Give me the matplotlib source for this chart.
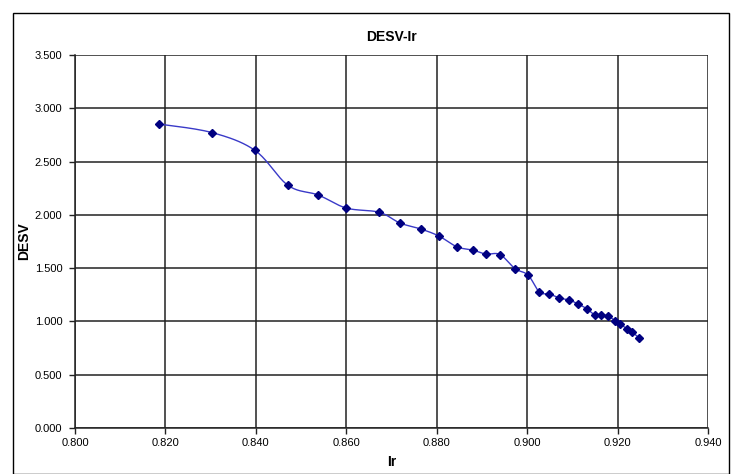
import numpy as np
import matplotlib
matplotlib.use('Agg')
import matplotlib.pyplot as plt
from matplotlib.patches import Rectangle
from matplotlib.ticker import FormatStrFormatter

plt.rcParams['font.family'] = ['Liberation Sans', 'DejaVu Sans']

# Ir vs DESV measurements
ir = [0.8186, 0.8303, 0.8398, 0.8471, 0.8538, 0.8600, 0.8673, 0.8719,
      0.8765, 0.8805, 0.8845, 0.8881, 0.8909, 0.8940, 0.8973, 0.9002,
      0.9027, 0.9049, 0.9071, 0.9093, 0.9113, 0.9133, 0.9150, 0.9164,
      0.9179, 0.9195, 0.9206, 0.9221, 0.9232, 0.9248]
desv = [2.852, 2.772, 2.605, 2.277, 2.186, 2.064, 2.024, 1.923,
        1.867, 1.801, 1.700, 1.668, 1.632, 1.628, 1.495, 1.435,
        1.276, 1.257, 1.220, 1.201, 1.163, 1.116, 1.060, 1.060,
        1.051, 1.004, 0.976, 0.929, 0.901, 0.844]


def smooth_curve(x, y, n=20, tension=0.5):
    # cardinal spline through the points, like a spreadsheet "smoothed line"
    x = np.asarray(x, float)
    y = np.asarray(y, float)
    px = np.concatenate([[x[0]], x, [x[-1]]])
    py = np.concatenate([[y[0]], y, [y[-1]]])
    xs, ys = [], []
    t = np.linspace(0, 1, n, endpoint=False)
    h00 = 2 * t**3 - 3 * t**2 + 1
    h10 = t**3 - 2 * t**2 + t
    h01 = -2 * t**3 + 3 * t**2
    h11 = t**3 - t**2
    for i in range(1, len(px) - 2):
        mx0 = tension * (px[i + 1] - px[i - 1])
        my0 = tension * (py[i + 1] - py[i - 1])
        mx1 = tension * (px[i + 2] - px[i])
        my1 = tension * (py[i + 2] - py[i])
        xs.append(h00 * px[i] + h10 * mx0 + h01 * px[i + 1] + h11 * mx1)
        ys.append(h00 * py[i] + h10 * my0 + h01 * py[i + 1] + h11 * my1)
    xs.append([x[-1]])
    ys.append([y[-1]])
    return np.concatenate(xs), np.concatenate(ys)


fig = plt.figure(figsize=(7.31, 4.74), dpi=100)
ax = fig.add_axes([75 / 731, 1 - 428 / 474, (708 - 75) / 731, (428 - 55) / 474])

# chart area border
fig.patches.append(Rectangle((13 / 731, 0), 716 / 731, 1 - 13 / 474,
                             transform=fig.transFigure, fill=False,
                             edgecolor='black', linewidth=1.0))

sx, sy = smooth_curve(ir, desv)
ax.plot(sx, sy, color='#3a3ac8', linewidth=1.0, zorder=3)
ax.plot(ir, desv, linestyle='none', marker='D', markersize=4,
        color='#000080', zorder=4)

ax.set_xlim(0.800, 0.940)
ax.set_ylim(0.0, 3.5)
ax.set_xticks(np.arange(0.800, 0.9401, 0.020))
ax.set_yticks(np.arange(0.0, 3.5001, 0.5))
ax.xaxis.set_major_formatter(FormatStrFormatter('%.3f'))
ax.yaxis.set_major_formatter(FormatStrFormatter('%.3f'))
ax.grid(True, color='#222222', linewidth=1.1)
ax.set_axisbelow(True)

for side in ['top', 'right']:
    ax.spines[side].set_visible(False)
for side in ['left', 'bottom']:
    ax.spines[side].set_color('#222222')
    ax.spines[side].set_linewidth(1.1)

ax.tick_params(axis='both', labelsize=8, length=4, width=1, color='#222222',
               direction='out')
ax.tick_params(axis='y', pad=5)
ax.tick_params(axis='x', pad=3)

ax.set_title('DESV-Ir', fontsize=10, fontweight='bold', pad=10)
ax.set_xlabel('Ir', fontsize=10, fontweight='bold', labelpad=5)
ax.set_ylabel('DESV', fontsize=10, fontweight='bold', labelpad=3)

fig.savefig('out.png', dpi=100)
